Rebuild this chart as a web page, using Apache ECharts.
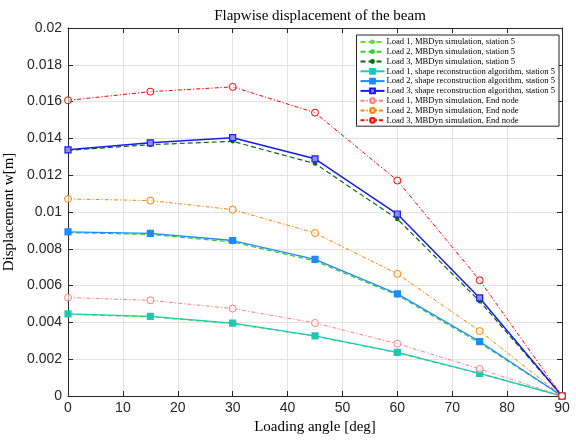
<!DOCTYPE html>
<html>
<head>
<meta charset="utf-8">
<script src="https://cdn.jsdelivr.net/npm/echarts@6/dist/echarts.min.js"></script>
<style>
  html, body { margin: 0; padding: 0; background: #fff; }
  #chart { width: 576px; height: 441px; }
</style>
</head>
<body>
<div id="chart"></div>
<script>
// Loading angles [deg]
const angles = [0, 15, 30, 45, 60, 75, 90];

// MBDyn simulation, station 5
const mbdynSt5Load1 = [0.00444, 0.00430, 0.00393, 0.00325, 0.00235, 0.00121, 0];
const mbdynSt5Load2 = [0.00888, 0.00878, 0.00837, 0.00734, 0.00548, 0.00289, 0];
const mbdynSt5Load3 = [0.01335, 0.01366, 0.01384, 0.01263, 0.00962, 0.00515, 0];

// Shape reconstruction algorithm, station 5
const shapeSt5Load1 = [0.00446, 0.00433, 0.00396, 0.00327, 0.00237, 0.00123, 0];
const shapeSt5Load2 = [0.00892, 0.00884, 0.00845, 0.00743, 0.00555, 0.00296, 0];
const shapeSt5Load3 = [0.01338, 0.01376, 0.01404, 0.01289, 0.00989, 0.00533, 0];

// MBDyn simulation, end node
const mbdynEndLoad1 = [0.00535, 0.00520, 0.00475, 0.00397, 0.00284, 0.00147, 0];
const mbdynEndLoad2 = [0.01071, 0.01062, 0.01013, 0.00886, 0.00664, 0.00353, 0];
const mbdynEndLoad3 = [0.01607, 0.01654, 0.01680, 0.01540, 0.01171, 0.00629, 0];

const pairs = ys => angles.map((a, i) => [a, ys[i]]);

const serif = '"Liberation Serif", "DejaVu Serif", serif';
const sans = '"Liberation Sans", Arial, Helvetica, sans-serif';
const axisColor = '#262626';

const dashed = [5, 3];
const dashDot = [4, 2, 1.2, 2];

function mbdynStation(name, data, color) {
  return {
    name, type: 'line', data: pairs(data),
    symbol: 'circle', symbolSize: 4.5, showSymbol: true, showAllSymbol: true,
    lineStyle: { color, width: 1.2, type: dashed },
    itemStyle: { color, borderColor: color, borderWidth: 0 }
  };
}
function shapeStation(name, data, color, fill, width) {
  return {
    name, type: 'line', data: pairs(data),
    symbol: 'rect', symbolSize: 6, showSymbol: true, showAllSymbol: true,
    lineStyle: { color, width, type: 'solid' },
    itemStyle: { color: fill, borderColor: color, borderWidth: 1.2 }
  };
}
// open circle markers: white face, thin coloured edge
function endNode(name, data, color) {
  return {
    name, type: 'line', data: pairs(data),
    symbol: 'circle', symbolSize: 7, showSymbol: true, showAllSymbol: true,
    lineStyle: { color, width: 1, type: dashDot },
    itemStyle: { color: 'rgba(255,255,255,0.6)', borderColor: color, borderWidth: 1 }
  };
}

const series = [
  mbdynStation('Load 1, MBDyn simulation, station 5', mbdynSt5Load1, '#66dd33'),
  mbdynStation('Load 2, MBDyn simulation, station 5', mbdynSt5Load2, '#33cc33'),
  mbdynStation('Load 3, MBDyn simulation, station 5', mbdynSt5Load3, '#0b6b0b'),
  shapeStation('Load 1, shape reconstruction algorithm, station 5', shapeSt5Load1, '#1ec8c0', '#20c8a0', 1.3),
  shapeStation('Load 2, shape reconstruction algorithm, station 5', shapeSt5Load2, '#1a8cff', '#1a8cff', 1.3),
  shapeStation('Load 3, shape reconstruction algorithm, station 5', shapeSt5Load3, '#1a1aee', '#8c8cff', 1.5),
  endNode('Load 1, MBDyn simulation, End node', mbdynEndLoad1, '#ff7f7f'),
  endNode('Load 2, MBDyn simulation, End node', mbdynEndLoad2, '#ff8000'),
  endNode('Load 3, MBDyn simulation, End node', mbdynEndLoad3, '#ff0000')
];

const chart = echarts.init(document.getElementById('chart'), null, { renderer: 'canvas' });

const tickCommon = { inside: true, length: 5, lineStyle: { color: axisColor, width: 1 } };

chart.setOption({
  animation: false,
  backgroundColor: '#fff',
  title: {
    text: 'Flapwise displacement of the beam',
    left: 315, top: 4, textAlign: 'center',
    textStyle: { fontFamily: serif, fontSize: 15, fontWeight: 'normal', color: '#000' }
  },
  grid: { left: 68, right: 14, top: 28, bottom: 45, containLabel: false, outerBoundsMode: 'none' },
  legend: {
    right: 17, top: 35,
    orient: 'vertical',
    backgroundColor: '#fff',
    borderColor: '#262626', borderWidth: 1,
    padding: [2, 4, 1, 3],
    itemGap: 0,
    itemWidth: 24, itemHeight: 6,
    textStyle: { fontFamily: serif, fontSize: 8.6, color: '#000', lineHeight: 9.8, padding: [0, 0, 0, -3] },
    data: series.map(s => s.name)
  },
  xAxis: [{
    type: 'value', min: 0, max: 90, interval: 10,
    name: 'Loading angle [deg]', nameLocation: 'middle', nameGap: 20,
    nameTextStyle: { fontFamily: serif, fontSize: 15, color: '#000' },
    axisLine: { show: true, onZero: false, lineStyle: { color: axisColor, width: 1 } },
    axisTick: tickCommon,
    axisLabel: { fontFamily: sans, fontSize: 14, color: axisColor, margin: 5 },
    splitLine: { show: true, lineStyle: { color: '#e3e3e3', width: 1 } }
  }, {
    type: 'value', min: 0, max: 90, interval: 10, position: 'top',
    axisLine: { show: true, onZero: false, lineStyle: { color: axisColor, width: 1 } },
    axisTick: tickCommon,
    axisLabel: { show: false },
    splitLine: { show: false }
  }],
  yAxis: [{
    type: 'value', min: 0, max: 0.02, interval: 0.002,
    name: 'Displacement w[m]', nameLocation: 'middle', nameGap: 36,
    nameTextStyle: { fontFamily: serif, fontSize: 15, color: '#000' },
    axisLine: { show: true, onZero: false, lineStyle: { color: axisColor, width: 1 } },
    axisTick: tickCommon,
    axisLabel: { fontFamily: sans, fontSize: 14, color: axisColor, margin: 6 },
    splitLine: { show: true, lineStyle: { color: '#e3e3e3', width: 1 } }
  }, {
    type: 'value', min: 0, max: 0.02, interval: 0.002, position: 'right',
    axisLine: { show: true, onZero: false, lineStyle: { color: axisColor, width: 1 } },
    axisTick: tickCommon,
    axisLabel: { show: false },
    splitLine: { show: false }
  }],
  series
});
</script>
</body>
</html>
